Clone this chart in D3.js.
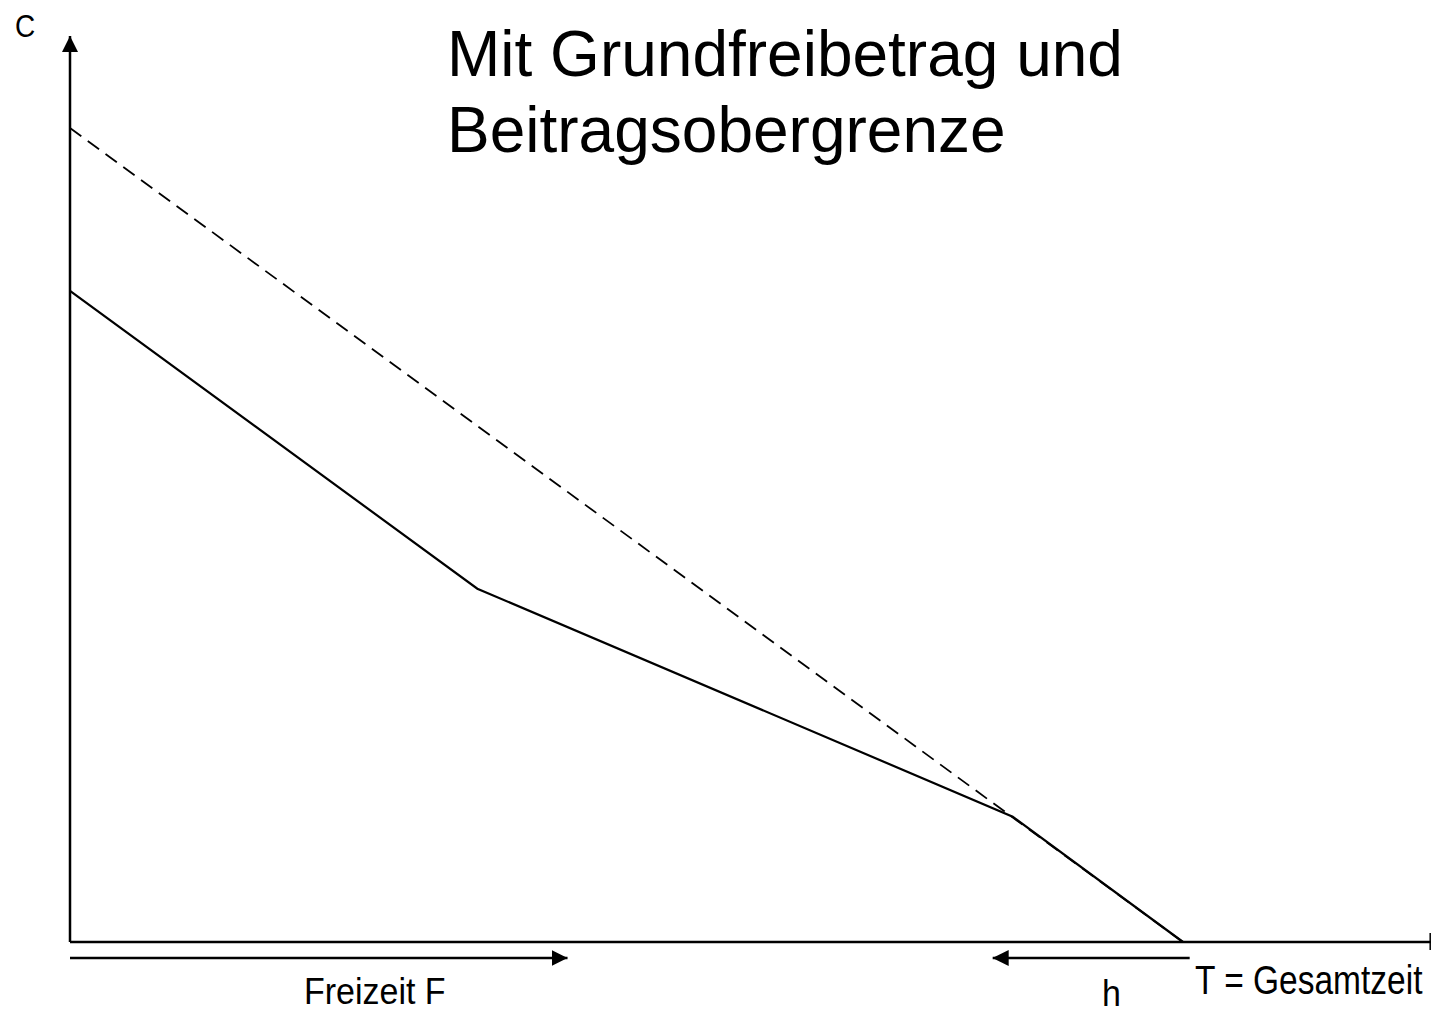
<!DOCTYPE html>
<html>
<head>
<meta charset="utf-8">
<script src="https://cdn.jsdelivr.net/npm/d3@7"></script>
<style>
  html, body { margin: 0; padding: 0; background: #fff; }
  svg { display: block; }
  text { font-family: "Liberation Sans", Arial, sans-serif; fill: #000; }
</style>
</head>
<body>
<script>
// ---- Data (F = Freizeit in units where T = 100; C = consumption units) ----
const titleLines = ["Mit Grundfreibetrag und", "Beitragsobergrenze"];
const grossF = [0, 100];            // dashed budget line without contributions
const grossC = [100, 0];
const netF = [0, 36.6, 84.7, 100];  // solid budget line with Grundfreibetrag & Beitragsobergrenze
const netC = [80, 43.4, 15.4, 0];
const axisMaxF = 122.3;
const axisMaxC = 111.3;
const freizeitArrow = [0, 44.7];    // from -> to
const hArrow = [100.6, 82.9];       // from -> to
const labels = { c: "C", freizeit: "Freizeit F", h: "h", total: "T = Gesamtzeit" };

const W = 1431, H = 1014;
const svg = d3.select("body").append("svg").attr("width", W).attr("height", H);

const x = d3.scaleLinear().domain([0, 100]).range([70, 1183]);
const y = d3.scaleLinear().domain([0, 100]).range([942, 128]);

const defs = svg.append("defs");
defs.append("marker")
  .attr("id", "arr")
  .attr("viewBox", "0 0 16 16")
  .attr("refX", 16).attr("refY", 8)
  .attr("markerWidth", 16).attr("markerHeight", 16)
  .attr("markerUnits", "userSpaceOnUse")
  .attr("orient", "auto")
  .append("path").attr("d", "M0,0 L16,8 L0,16 Z").attr("fill", "#000");

// Axes
svg.append("line")
  .attr("x1", x(0)).attr("y1", y(0))
  .attr("x2", x(0)).attr("y2", y(axisMaxC))
  .attr("stroke", "#000").attr("stroke-width", 2.5)
  .attr("marker-end", "url(#arr)");
svg.append("line")
  .attr("x1", x(0)).attr("y1", y(0))
  .attr("x2", x(axisMaxF)).attr("y2", y(0))
  .attr("stroke", "#000").attr("stroke-width", 2.5);
svg.append("line")
  .attr("x1", x(axisMaxF) - 1).attr("y1", y(0) - 9)
  .attr("x2", x(axisMaxF) - 1).attr("y2", y(0) + 8)
  .attr("stroke", "#000").attr("stroke-width", 1.5);

const line = d3.line().x(d => x(d[0])).y(d => y(d[1]));

// Dashed line
svg.append("path")
  .attr("d", line(d3.zip(grossF, grossC)))
  .attr("fill", "none").attr("stroke", "#000")
  .attr("stroke-width", 1.8).attr("stroke-dasharray", "14,8");

// Solid line
svg.append("path")
  .attr("d", line(d3.zip(netF, netC)))
  .attr("fill", "none").attr("stroke", "#000")
  .attr("stroke-width", 2.2).attr("stroke-linejoin", "miter");

// Arrows below x axis
const arrowY = 958;
[freizeitArrow, hArrow].forEach(a => {
  svg.append("line")
    .attr("x1", x(a[0])).attr("y1", arrowY)
    .attr("x2", x(a[1])).attr("y2", arrowY)
    .attr("stroke", "#000").attr("stroke-width", 2.5)
    .attr("marker-end", "url(#arr)");
});

// Texts (slightly stretched vertically like the reference's narrow face)
function label(txt, px, py, size, sy) {
  svg.append("text")
    .attr("transform", `translate(${px},${py}) scale(1,${sy})`)
    .attr("font-size", size).text(txt);
}
label(labels.c, 15, 37, 28, 1.12);
svg.selectAll("text.title").data(titleLines).enter().append("text")
  .attr("class", "title")
  .attr("x", 447).attr("y", (d, i) => 76 + i * 76)
  .attr("font-size", 64)
  .text(d => d);
label(labels.freizeit, 304, 1004, 34, 1.08);
label(labels.h, 1102, 1006, 34, 1.1);
label(labels.total, 1195, 994, 33.5, 1.2);
</script>
</body>
</html>
